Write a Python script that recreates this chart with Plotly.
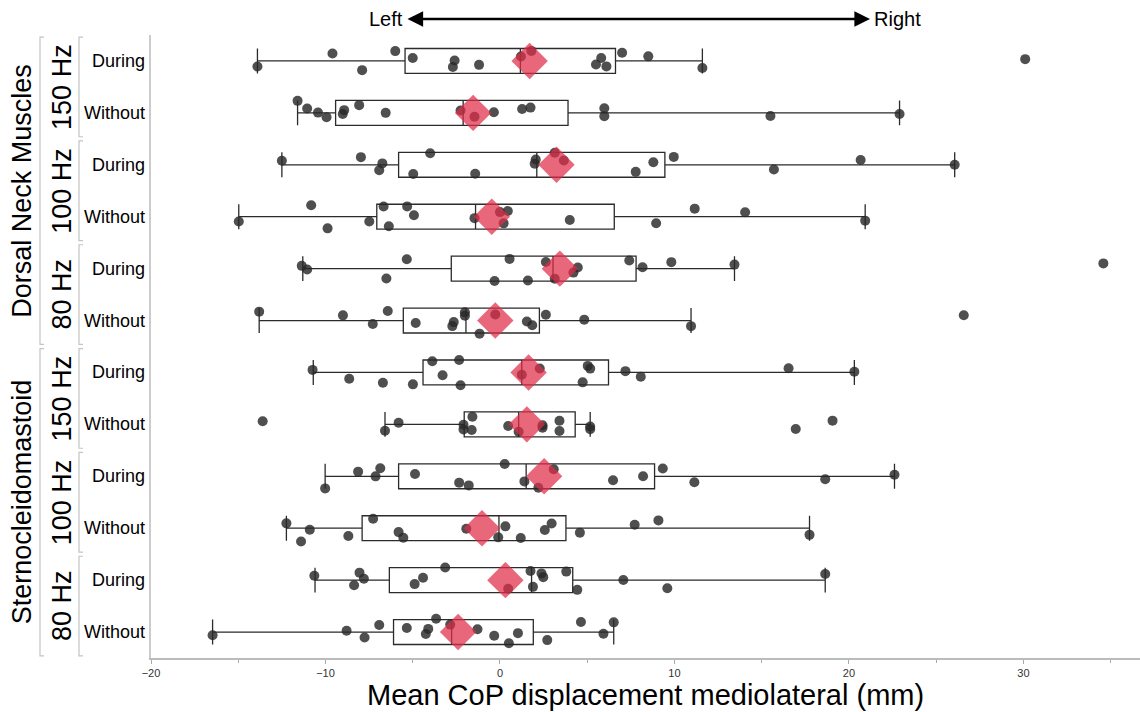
import plotly.graph_objects as go

# ---------------- data ----------------
groups = ["Dorsal Neck Muscles", "Sternocleidomastoid"]
freqs = ["150 Hz", "100 Hz", "80 Hz"]
conditions = ["During", "Without"]
row_labels = [c for g in groups for f in freqs for c in conditions]

pts_dnm150_during = [-13.9, -9.6, -7.9, -6.0, -5.0, -2.7, -2.6, -1.2, 1.2, 1.8, 5.5, 5.8, 6.1, 7.0, 8.5, 11.6, 30.1]
pts_dnm150_without = [-11.6, -11.05, -10.43, -9.94, -9.01, -8.93, -8.07, -6.55, -2.26, -1.46, -0.35, 1.27, 1.75, 5.98, 5.98, 15.5, 22.9]
pts_dnm100_during = [-12.5, -7.97, -6.92, -6.74, -4.97, -4.0, -1.42, 1.99, 2.05, 3.14, 3.66, 7.78, 8.79, 9.96, 15.7, 20.67, 26.06]
pts_dnm100_without = [-14.97, -10.82, -9.88, -7.49, -6.67, -6.37, -5.32, -4.93, -1.46, 0.0, 0.21, 0.45, 4.0, 8.95, 11.16, 14.05, 20.93]
pts_dnm80_during = [-11.36, -11.05, -6.51, -5.34, -0.31, 0.55, 1.60, 2.63, 3.14, 4.21, 4.46, 7.41, 8.17, 9.82, 13.44, 34.58]
pts_dnm80_without = [-13.8, -9.0, -7.29, -6.43, -4.83, -2.73, -2.65, -2.01, -2.01, -1.17, -0.27, 1.54, 1.85, 2.63, 4.83, 10.95, 26.58]
pts_scm150_during = [-10.74, -8.64, -6.71, -4.99, -3.88, -3.29, -2.34, -2.26, 1.25, 2.28, 4.74, 5.03, 5.17, 7.19, 8.07, 16.54, 20.31]
pts_scm150_without = [-13.6, -6.59, -5.81, -2.09, -2.09, -1.62, -1.58, 0.47, 1.07, 2.44, 2.44, 3.41, 3.41, 5.17, 5.17, 16.95, 19.06]
pts_scm100_during = [-10.02, -8.13, -7.13, -6.86, -4.87, -2.34, -1.79, 0.27, 1.40, 2.20, 3.08, 6.48, 8.2, 9.33, 11.14, 18.64, 22.61]
pts_scm100_without = [-12.24, -11.4, -10.9, -8.69, -7.27, -5.81, -5.54, -1.93, -0.10, 0.31, 1.19, 2.57, 2.96, 4.58, 7.72, 9.08, 17.74]
pts_scm80_during = [-10.64, -8.36, -8.05, -7.8, -4.89, -4.41, -3.14, 0.47, 1.75, 1.89, 2.38, 2.48, 3.80, 4.43, 7.07, 9.59, 18.64]
pts_scm80_without = [-16.47, -8.79, -7.76, -6.92, -5.34, -4.25, -4.11, -3.66, -2.85, -1.29, -0.33, 0.51, 1.03, 2.71, 4.64, 5.93, 6.52]

points = [pts_dnm150_during, pts_dnm150_without, pts_dnm100_during, pts_dnm100_without,
          pts_dnm80_during, pts_dnm80_without, pts_scm150_during, pts_scm150_without,
          pts_scm100_during, pts_scm100_without, pts_scm80_during, pts_scm80_without]

lower_whisker = [-13.9, -11.6, -12.5, -14.97, -11.3, -13.8, -10.7, -6.59, -10.02, -12.24, -10.6, -16.47]
q1 = [-5.44, -9.42, -5.81, -7.06, -2.79, -5.54, -4.41, -2.05, -5.81, -7.9, -6.34, -6.10]
median = [1.17, -2.11, 2.11, -1.40, 3.04, -1.95, 1.25, 1.07, 1.50, -0.06, 1.81, -2.77]
q3 = [6.62, 3.90, 9.45, 6.55, 7.80, 2.26, 6.22, 4.31, 8.86, 3.78, 4.17, 1.91]
upper_whisker = [11.6, 22.9, 26.06, 20.93, 13.44, 10.95, 20.31, 5.17, 22.61, 17.74, 18.64, 6.52]
means = [1.70, -1.54, 3.24, -0.47, 3.43, -0.27, 1.64, 1.54, 2.53, -1.03, 0.31, -2.40]

x_title = "Mean CoP displacement mediolateral (mm)"

# ---------------- figure ----------------
FONT = "Arial, Liberation Sans, sans-serif"
rows = list(range(len(row_labels)))
NROW = len(rows)

fig = go.Figure()

fig.add_trace(go.Box(
    y=rows, q1=q1, median=median, q3=q3,
    lowerfence=lower_whisker, upperfence=upper_whisker,
    orientation="h", width=0.48, whiskerwidth=1,
    fillcolor="rgba(255,255,255,0)",
    line=dict(color="#2b2b2b", width=1.3),
    boxpoints=False, hoverinfo="skip", showlegend=False,
))

xs = [v for row in points for v in row]
ys = [i for i, row in enumerate(points) for _ in row]
fig.add_trace(go.Box(
    x=xs, y=ys, orientation="h", boxpoints="all", jitter=1.0, pointpos=0,
    width=0.54, fillcolor="rgba(0,0,0,0)",
    line=dict(width=0, color="rgba(0,0,0,0)"),
    marker=dict(size=10, color="rgba(40,40,40,0.82)", line=dict(width=0)),
    showlegend=False,
))

fig.add_trace(go.Scatter(
    x=means, y=rows, mode="markers",
    marker=dict(symbol="diamond", size=28, color="rgba(225,45,70,0.72)", line=dict(width=0)),
    showlegend=False, hoverinfo="x",
))

L, R, T, B = 151, 0, 35, 54
W, H = 1140, 712
pw, ph = W - L - R, H - T - B


def px2paper_x(px):
    return (px - L) / pw


def row2paper_y(r):
    return (NROW - 0.5 - r) / NROW


annotations = []
shapes = []

for i in rows:
    annotations.append(dict(text=row_labels[i], xref="paper", yref="paper",
                            x=0, y=row2paper_y(i), xanchor="right", yanchor="middle",
                            xshift=-4, showarrow=False,
                            font=dict(family=FONT, size=18, color="black")))

for g, gname in enumerate(groups):
    r0 = g * 6
    annotations.append(dict(text=gname, xref="paper", yref="paper",
                            x=px2paper_x(22), y=row2paper_y(r0 + 2.5), textangle=-90,
                            xanchor="center", yanchor="middle", showarrow=False,
                            font=dict(family=FONT, size=27, color="black")))
    ya, yb = row2paper_y(r0 - 0.46), row2paper_y(r0 + 5.46)
    xa, xb = px2paper_x(40), px2paper_x(44)
    shapes.append(dict(type="path", xref="paper", yref="paper",
                       path=f"M {xb},{ya} L {xa},{ya} L {xa},{yb} L {xb},{yb}",
                       line=dict(color="#c4c4c4", width=1.2)))
    for f, fname in enumerate(freqs):
        r = r0 + f * 2
        annotations.append(dict(text=fname, xref="paper", yref="paper",
                                x=px2paper_x(62), y=row2paper_y(r + 0.5), textangle=-90,
                                xanchor="center", yanchor="middle", showarrow=False,
                                font=dict(family=FONT, size=27, color="black")))
        ya, yb = row2paper_y(r - 0.46), row2paper_y(r + 1.46)
        xa, xb = px2paper_x(79), px2paper_x(83)
        shapes.append(dict(type="path", xref="paper", yref="paper",
                           path=f"M {xb},{ya} L {xa},{ya} L {xa},{yb} L {xb},{yb}",
                           line=dict(color="#c4c4c4", width=1.2)))

# x-axis title
annotations.append(dict(text=x_title, xref="paper", yref="paper",
                        x=0.5, y=-(695 - (H - B)) / ph,
                        xanchor="center", yanchor="middle", showarrow=False,
                        font=dict(family=FONT, size=29, color="black")))

# Left <-> Right arrow
ytop = (H - B - 19) / ph
annotations.append(dict(text="", xref="paper", yref="paper",
                        x=px2paper_x(870), y=ytop, ax=-(870 - 406), ay=0,
                        showarrow=True, arrowside="end+start", arrowhead=2,
                        arrowsize=1.2, arrowwidth=2.6, arrowcolor="black", standoff=0,
                        startstandoff=0))
annotations.append(dict(text="Left", xref="paper", yref="paper", x=px2paper_x(405), y=ytop,
                        xanchor="right", yanchor="middle", showarrow=False,
                        font=dict(family=FONT, size=20, color="black")))
annotations.append(dict(text="Right", xref="paper", yref="paper", x=px2paper_x(872), y=ytop,
                        xanchor="left", yanchor="middle", showarrow=False,
                        font=dict(family=FONT, size=20, color="black")))

fig.update_layout(
    width=W, height=H,
    margin=dict(l=L, r=R, t=T, b=B, pad=0),
    paper_bgcolor="white", plot_bgcolor="white",
    boxmode="overlay", showlegend=False,
    font=dict(family=FONT, color="black"),
    annotations=annotations, shapes=shapes,
    xaxis=dict(range=[-20, 36.68], tickmode="linear", tick0=-20, dtick=10,
               ticks="outside", ticklen=4, tickcolor="#aaaaaa", tickwidth=1,
               ticklabelstandoff=0,
               showline=True, linecolor="#bbbbbb", linewidth=1.5,
               showgrid=False, zeroline=False,
               tickfont=dict(family=FONT, size=11, color="#333333"),
               minor=dict(dtick=5, tick0=-20, ticks="outside", ticklen=3,
                          tickcolor="#aaaaaa", showgrid=False)),
    yaxis=dict(range=[NROW - 0.5, -0.5], showticklabels=False, ticks="",
               showline=True, linecolor="#cccccc", linewidth=1.5,
               showgrid=False, zeroline=False),
)

fig.write_html("out.html")
